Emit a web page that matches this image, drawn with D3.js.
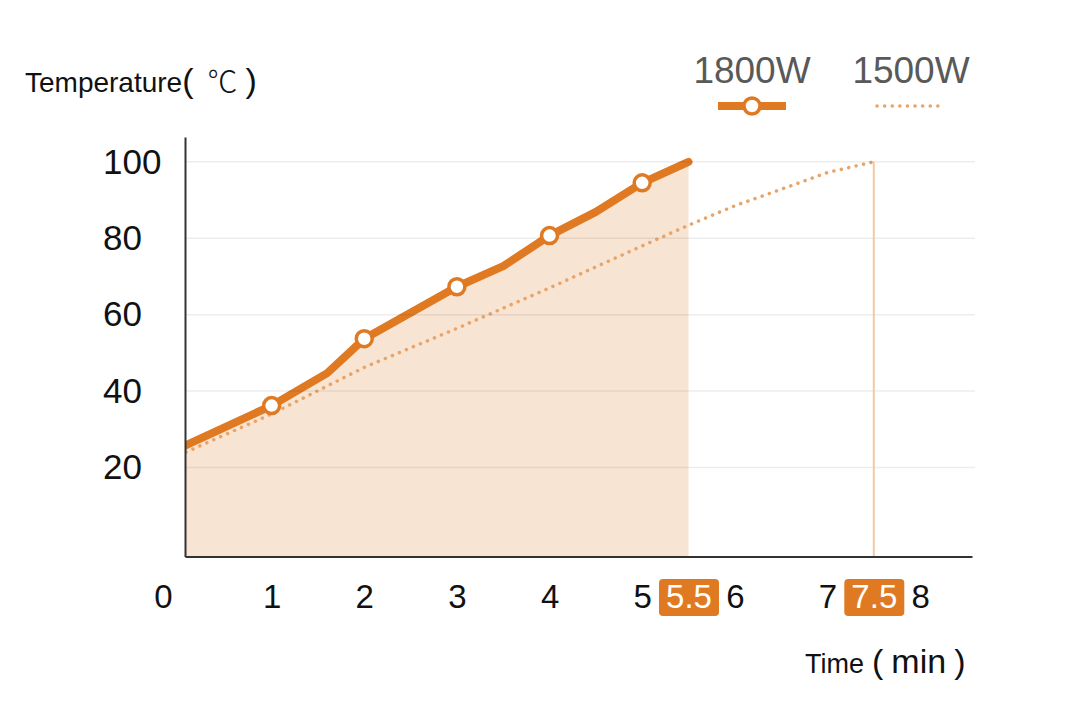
<!DOCTYPE html>
<html>
<head>
<meta charset="utf-8">
<script src="https://cdn.jsdelivr.net/npm/d3@7"></script>
<style>
  body { margin: 0; background: #fff; }
  svg { display: block; font-family: "Liberation Sans", Arial, sans-serif; }
</style>
</head>
<body>
<svg id="chart" width="1080" height="714"></svg>
<script>
// values
const times1800 = [0, 1, 1.6, 2, 2.5, 3, 3.5, 4, 4.5, 5, 5.5];
const temps1800 = [25, 36.2, 44.7, 53.7, 60.5, 67.3, 72.7, 80.7, 86.9, 94.5, 100];
const markerTimes = [1, 2, 3, 4, 5];
const times1500 = [0, 1, 2, 3, 4, 5, 5.5, 6, 6.5, 7, 7.5];
const temps1500 = [23.2, 34, 46.2, 56.4, 67, 78, 83.4, 88.5, 92.8, 97.2, 100];
const yTicks = [20, 40, 60, 80, 100];
const xTicks = [0, 1, 2, 3, 4, 5, 5.5, 6, 7, 7.5, 8];
const highlightTicks = [5.5, 7.5];
const seriesNames = ["1800W", "1500W"];

const orange = "#e07a22";
const dotColor = "#e9a468";

const svg = d3.select("#chart");

const x = d3.scaleLinear().domain([0.065, 8.56]).range([185, 972]);
const y = d3.scaleLinear().domain([-3.3, 106.5]).range([556.5, 137]);

const data1800 = times1800.map((t, i) => ({ t: t, v: temps1800[i] }));
const data1500 = times1500.map((t, i) => ({ t: t, v: temps1500[i] }));
const markers = data1800.filter(d => markerTimes.includes(d.t));

svg.append("clipPath").attr("id", "plot")
  .append("rect")
  .attr("x", x.range()[0]).attr("y", 0)
  .attr("width", x.range()[1] - x.range()[0])
  .attr("height", y.range()[0]);

const plot = svg.append("g").attr("clip-path", "url(#plot)");

// filled area under the 1800W curve
plot.append("path")
  .datum(data1800)
  .attr("fill", "#f8e4d3")
  .attr("d", d3.area().x(d => x(d.t)).y0(y.range()[0]).y1(d => y(d.v)));

// gridlines
svg.append("g")
  .selectAll("line")
  .data(yTicks)
  .enter()
  .append("line")
  .attr("x1", x.range()[0])
  .attr("x2", x.range()[1] + 3)
  .attr("y1", d => y(d))
  .attr("y2", d => y(d))
  .attr("stroke", "rgba(0,0,0,0.07)")
  .attr("stroke-width", 1.5);

// end marker for 1500W
svg.append("line")
  .attr("x1", x(7.5)).attr("x2", x(7.5))
  .attr("y1", y(100)).attr("y2", y.range()[0])
  .attr("stroke", "#f2c9a4")
  .attr("stroke-width", 2);

const line = d3.line().x(d => x(d.t)).y(d => y(d.v));

plot.append("path")
  .datum(data1500)
  .attr("fill", "none")
  .attr("stroke", dotColor)
  .attr("stroke-width", 3.5)
  .attr("stroke-linecap", "round")
  .attr("stroke-dasharray", "0.1 7.5")
  .attr("d", line);

plot.append("path")
  .datum(data1800)
  .attr("fill", "none")
  .attr("stroke", orange)
  .attr("stroke-width", 8)
  .attr("stroke-linecap", "round")
  .attr("stroke-linejoin", "round")
  .attr("d", line);

svg.append("g")
  .selectAll("circle")
  .data(markers)
  .enter()
  .append("circle")
  .attr("cx", d => x(d.t))
  .attr("cy", d => y(d.v))
  .attr("r", 8)
  .attr("fill", "#fff")
  .attr("stroke", orange)
  .attr("stroke-width", 3.5);

// axes
const yAxis = svg.append("g")
  .attr("transform", `translate(${x.range()[0]},0)`)
  .call(d3.axisLeft(y).tickValues(yTicks).tickSize(0).tickSizeOuter(0));

yAxis.select(".domain").attr("stroke", "#333").attr("stroke-width", 2);
yAxis.selectAll("text")
  .attr("x", -82)
  .attr("text-anchor", "start")
  .attr("font-size", 35)
  .attr("font-family", "Liberation Sans, Arial, sans-serif")
  .attr("fill", "#111");

const xAxis = svg.append("g")
  .attr("transform", `translate(0,${y.range()[0]})`)
  .call(d3.axisBottom(x).tickValues(xTicks).tickSize(0).tickSizeOuter(0).tickPadding(28)
    .tickFormat(d => String(d)));

xAxis.select(".domain").attr("stroke", "#333").attr("stroke-width", 2);
xAxis.selectAll(".tick")
  .filter(d => highlightTicks.includes(d))
  .insert("rect", "text")
  .attr("x", -30).attr("y", 22.5)
  .attr("width", 60).attr("height", 37)
  .attr("rx", 4)
  .attr("fill", orange);

xAxis.selectAll("text")
  .attr("font-size", 33)
  .attr("font-family", "Liberation Sans, Arial, sans-serif")
  .attr("fill", d => highlightTicks.includes(d) ? "#fff" : "#111")
  .attr("dx", d => d === 0 ? -16 : 0);

// axis titles
const yTitle = svg.append("text")
  .attr("x", 25).attr("y", 92)
  .attr("fill", "#111");
yTitle.append("tspan").attr("font-size", 28).text("Temperature");
yTitle.append("tspan").attr("font-size", 34).text("(");
yTitle.append("tspan").attr("font-size", 30).attr("dx", 14)
  .attr("font-family", "Noto Sans CJK SC, sans-serif").attr("font-weight", 300).text("℃");
yTitle.append("tspan").attr("font-size", 34).attr("dx", 8).text(")");

const xTitle = svg.append("text")
  .attr("x", 805).attr("y", 673)
  .attr("fill", "#111");
xTitle.append("tspan").attr("font-size", 27).text("Time");
xTitle.append("tspan").attr("font-size", 34).attr("dx", 8).text("(");
xTitle.append("tspan").attr("font-size", 34).attr("dx", 8).text("min");
xTitle.append("tspan").attr("font-size", 34).attr("dx", 8).text(")");

// legend
const legend = svg.append("g");
const legendCenters = [752, 911];

legend.selectAll("text")
  .data(seriesNames)
  .enter()
  .append("text")
  .attr("x", (d, i) => legendCenters[i])
  .attr("y", 83)
  .attr("text-anchor", "middle")
  .attr("font-size", 37)
  .attr("fill", "#595959")
  .text(d => d);

legend.append("line")
  .attr("x1", legendCenters[0] - 34).attr("x2", legendCenters[0] + 34)
  .attr("y1", 106).attr("y2", 106)
  .attr("stroke", orange).attr("stroke-width", 8);
legend.append("circle")
  .attr("cx", legendCenters[0]).attr("cy", 106).attr("r", 8)
  .attr("fill", "#fff").attr("stroke", orange).attr("stroke-width", 3.5);
legend.append("line")
  .attr("x1", legendCenters[1] - 34).attr("x2", legendCenters[1] + 34)
  .attr("y1", 106).attr("y2", 106)
  .attr("stroke", dotColor).attr("stroke-width", 3.5)
  .attr("stroke-linecap", "round").attr("stroke-dasharray", "0.1 7.5");
</script>
</body>
</html>
